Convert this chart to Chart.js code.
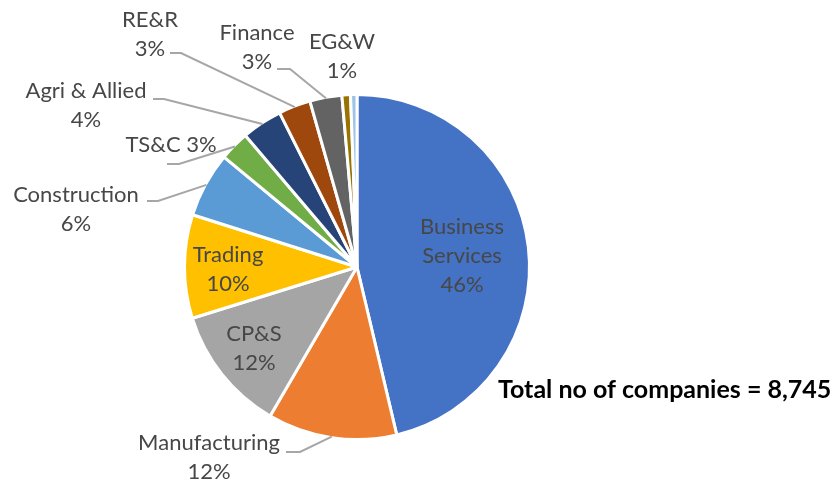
<!DOCTYPE html>
<html><head><meta charset="utf-8">
<script src="https://cdn.jsdelivr.net/npm/chart.js@4.4.1/dist/chart.umd.min.js"></script>
<style>html,body{margin:0;padding:0;background:#fff;}#wrap{width:837px;height:486px;position:relative;}</style>
</head><body><div id="wrap"><canvas id="c"></canvas></div>
<script>
// ---- data ----
const categories = ['Business Services','Manufacturing','CP&S','Trading','Construction','TS&C','Agri & Allied','RE&R','Finance','EG&W','Others'];
const shares = [46.3, 12.1, 11.8, 9.7, 6.1, 2.8, 3.8, 3.0, 3.0, 0.8, 0.6];
const showLabel = [true, true, true, true, true, true, true, true, true, true, false];
const totalCompaniesText = 'Total no of companies = 8,745';

// ---- style / layout (not data) ----
const sliceColors = ['#4472C4','#ED7D31','#A5A5A5','#FFC000','#5B9BD5','#70AD47','#264478','#9E480E','#636363','#997300','#9DC3E6'];
// label layout: split = how the text is split, x/y = centre of first line, leader = [startX,startY,elbowX]
const labelLayout = [
  {split:'words', x:462, y:227},
  {split:'two', x:209, y:443, leader:[286,452,300]},
  {split:'two', x:254, y:334},
  {split:'two', x:228, y:255},
  {split:'two', x:76,  y:195, leader:[147,201,158]},
  {split:'one', x:171, y:145, leader:[167,164,179]},
  {split:'two', x:86,  y:91,  leader:[153,99,164]},
  {split:'two', x:150, y:20,  leader:[170,53,181]},
  {split:'two', x:257, y:33,  leader:[277,69,290]},
  {split:'two', x:342, y:42},
  null
];
const LINE_H = 29;
const FONT = '22px Lato, "Open Sans", sans-serif';

const labelPlugin = {
  id: 'pieLabels',
  afterDatasetsDraw(chart) {
    const ctx = chart.ctx;
    const meta = chart.getDatasetMeta(0);
    const vals = chart.data.datasets[0].data;
    const total = vals.reduce((a, b) => a + b, 0);
    ctx.save();
    meta.data.forEach((arc, i) => {
      const lay = labelLayout[i];
      if (!lay || !showLabel[i]) return;
      const p = arc.getProps(['x','y','startAngle','endAngle','outerRadius']);
      const pct = Math.round(vals[i] / total * 100) + '%';
      const name = chart.data.labels[i];
      let lines;
      if (lay.split === 'words') lines = name.split(' ').concat([pct]);
      else if (lay.split === 'one') lines = [name + ' ' + pct];
      else lines = [name, pct];
      if (lay.leader) {
        const mid = (p.startAngle + p.endAngle) / 2;
        const ex = p.x + Math.cos(mid) * (p.outerRadius - 1);
        const ey = p.y + Math.sin(mid) * (p.outerRadius - 1);
        ctx.beginPath();
        ctx.strokeStyle = '#A6A6A6';
        ctx.lineWidth = 2;
        ctx.moveTo(lay.leader[0], lay.leader[1]);
        ctx.lineTo(lay.leader[2], lay.leader[1]);
        ctx.lineTo(ex, ey);
        ctx.stroke();
      }
      ctx.fillStyle = '#474747';
      ctx.font = FONT;
      ctx.textAlign = 'center';
      ctx.textBaseline = 'middle';
      lines.forEach((t, k) => ctx.fillText(t, lay.x, lay.y + k * LINE_H));
    });
    ctx.font = 'bold 25px Lato, "Open Sans", sans-serif';
    ctx.fillStyle = '#000';
    ctx.textAlign = 'left';
    ctx.textBaseline = 'middle';
    ctx.fillText(totalCompaniesText, 498, 390);
    ctx.restore();
  }
};

new Chart(document.getElementById('c'), {
  type: 'pie',
  data: {
    labels: categories,
    datasets: [{
      data: shares,
      backgroundColor: sliceColors,
      borderColor: '#ffffff',
      borderWidth: 3,
      hoverOffset: 0,
      hoverBorderWidth: 3
    }]
  },
  options: {
    responsive: true,
    maintainAspectRatio: false,
    animation: false,
    radius: 172.5,
    layout: {padding: {top: 92, bottom: 44, left: 182, right: 305}},
    plugins: {legend: {display: false}, tooltip: {enabled: false}, title: {display: false}}
  },
  plugins: [labelPlugin]
});
</script>
</body></html>
